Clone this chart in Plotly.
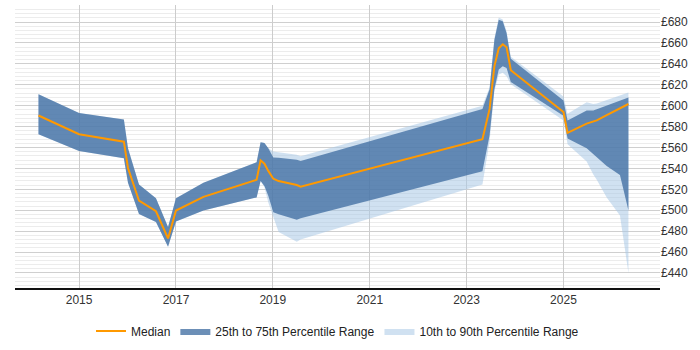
import plotly.graph_objects as go

dates = ["2014-03-01", "2015-01-01", "2015-12-05", "2016-01-05", "2016-03-28", "2016-08-03",
         "2016-11-02", "2017-01-01", "2017-07-27", "2018-09-01", "2018-10-01", "2018-10-30",
         "2018-11-28", "2019-01-05", "2019-02-14", "2019-07-01", "2019-07-30", "2023-05-01",
         "2023-06-24", "2023-07-30", "2023-09-01", "2023-10-01", "2023-10-30", "2023-12-01",
         "2025-01-01", "2025-02-01", "2025-06-25", "2025-08-14", "2025-09-09", "2025-11-23",
         "2026-03-03", "2026-05-06"]

median = [590.6, 572.7, 565.6, 540.4, 509.1, 499.0, 473.0, 499.7, 512.8, 529.1, 547.7, 544.5,
          537.6, 530.1, 527.9, 524.1, 522.5, 568.0, 596.9, 637.6, 655.0, 658.7, 655.9, 633.9,
          594.0, 574.0, 582.8, 584.4, 585.9, 590.9, 597.5, 601.6]

p75 = [611.0, 593.0, 586.8, 559.2, 524.7, 511.5, 484.0, 511.5, 526.3, 545.8, 564.9, 564.2,
       559.2, 550.5, 550.3, 548.2, 547.0, 596.9, 615.8, 662.8, 682.3, 680.7, 669.4, 645.0,
       605.0, 585.9, 595.3, 595.3, 596.5, 600.1, 604.8, 607.9]

p25 = [572.7, 556.7, 549.8, 526.3, 496.5, 488.7, 465.0, 489.3, 499.7, 512.2, 527.9, 523.2,
       513.8, 498.1, 496.2, 490.8, 492.3, 537.3, 571.8, 615.7, 634.5, 637.6, 636.1, 622.6,
       590.3, 568.7, 559.2, 553.6, 549.8, 542.3, 533.8, 499.7]

p90 = [611.0, 593.0, 586.8, 559.2, 524.7, 511.5, 484.0, 511.5, 526.3, 545.8, 564.9, 564.2,
       559.2, 556.1, 555.5, 553.0, 551.7, 600.0, 617.6, 664.6, 684.4, 682.5, 671.3, 646.8,
       608.8, 592.2, 603.2, 601.6, 602.2, 605.5, 609.9, 612.6]

p10 = [572.7, 556.7, 549.8, 526.3, 496.5, 488.7, 465.0, 489.3, 499.7, 512.2, 527.9, 522.0,
       507.5, 493.4, 479.2, 469.8, 471.9, 524.7, 566.0, 613.8, 629.8, 631.4, 628.2, 620.4,
       585.9, 563.0, 546.7, 534.1, 529.1, 512.2, 495.0, 440.0]

LIGHT = "rgba(170,200,230,0.55)"
DARK = "rgba(62,108,160,0.76)"
ORANGE = "#ff9900"

fig = go.Figure()
fig.add_trace(go.Scatter(x=dates, y=p10, mode="lines", line=dict(width=0, color=LIGHT),
                         showlegend=False, hoverinfo="skip"))
fig.add_trace(go.Scatter(x=dates, y=p90, mode="lines", line=dict(width=0, color=LIGHT),
                         fill="tonexty", fillcolor=LIGHT, name="10th to 90th Percentile Range",
                         legendrank=3))
fig.add_trace(go.Scatter(x=dates, y=p25, mode="lines", line=dict(width=0, color=DARK),
                         showlegend=False, hoverinfo="skip"))
fig.add_trace(go.Scatter(x=dates, y=p75, mode="lines", line=dict(width=0, color=DARK),
                         fill="tonexty", fillcolor=DARK, name="25th to 75th Percentile Range",
                         legendrank=2))
fig.add_trace(go.Scatter(x=dates, y=median, mode="lines", line=dict(width=2, color=ORANGE),
                         name="Median", legendrank=1))

fig.update_layout(
    width=700, height=350,
    margin=dict(l=15, r=40, t=5, b=58),
    paper_bgcolor="white", plot_bgcolor="white",
    font=dict(family="Liberation Sans, Arial, sans-serif", size=12, color="#333"),
    legend=dict(orientation="h", x=0.5, xanchor="center", y=-0.152, yanchor="middle",
                font=dict(size=12, color="#222"), traceorder="normal", itemwidth=30),
    xaxis=dict(type="date", range=["2013-09-05", "2026-12-30"], tick0="2015-01-01", dtick="M24",
               tickformat="%Y", showgrid=True, gridcolor="#cccccc", gridwidth=1,
               showline=True, linecolor="#111", linewidth=1.5, ticks="", zeroline=False,
               tickfont=dict(size=12, color="#333")),
    yaxis=dict(side="right", range=[425.6, 696.3], dtick=20, tick0=440, tickprefix="£",
               showgrid=True, gridcolor="#cfcfcf", gridwidth=1, zeroline=False,
               showline=False, ticks="", tickfont=dict(size=12, color="#333"),
               minor=dict(dtick=4, tick0=440, showgrid=True, gridcolor="#ececec", gridwidth=1)),
)

fig.write_html("out.html")
